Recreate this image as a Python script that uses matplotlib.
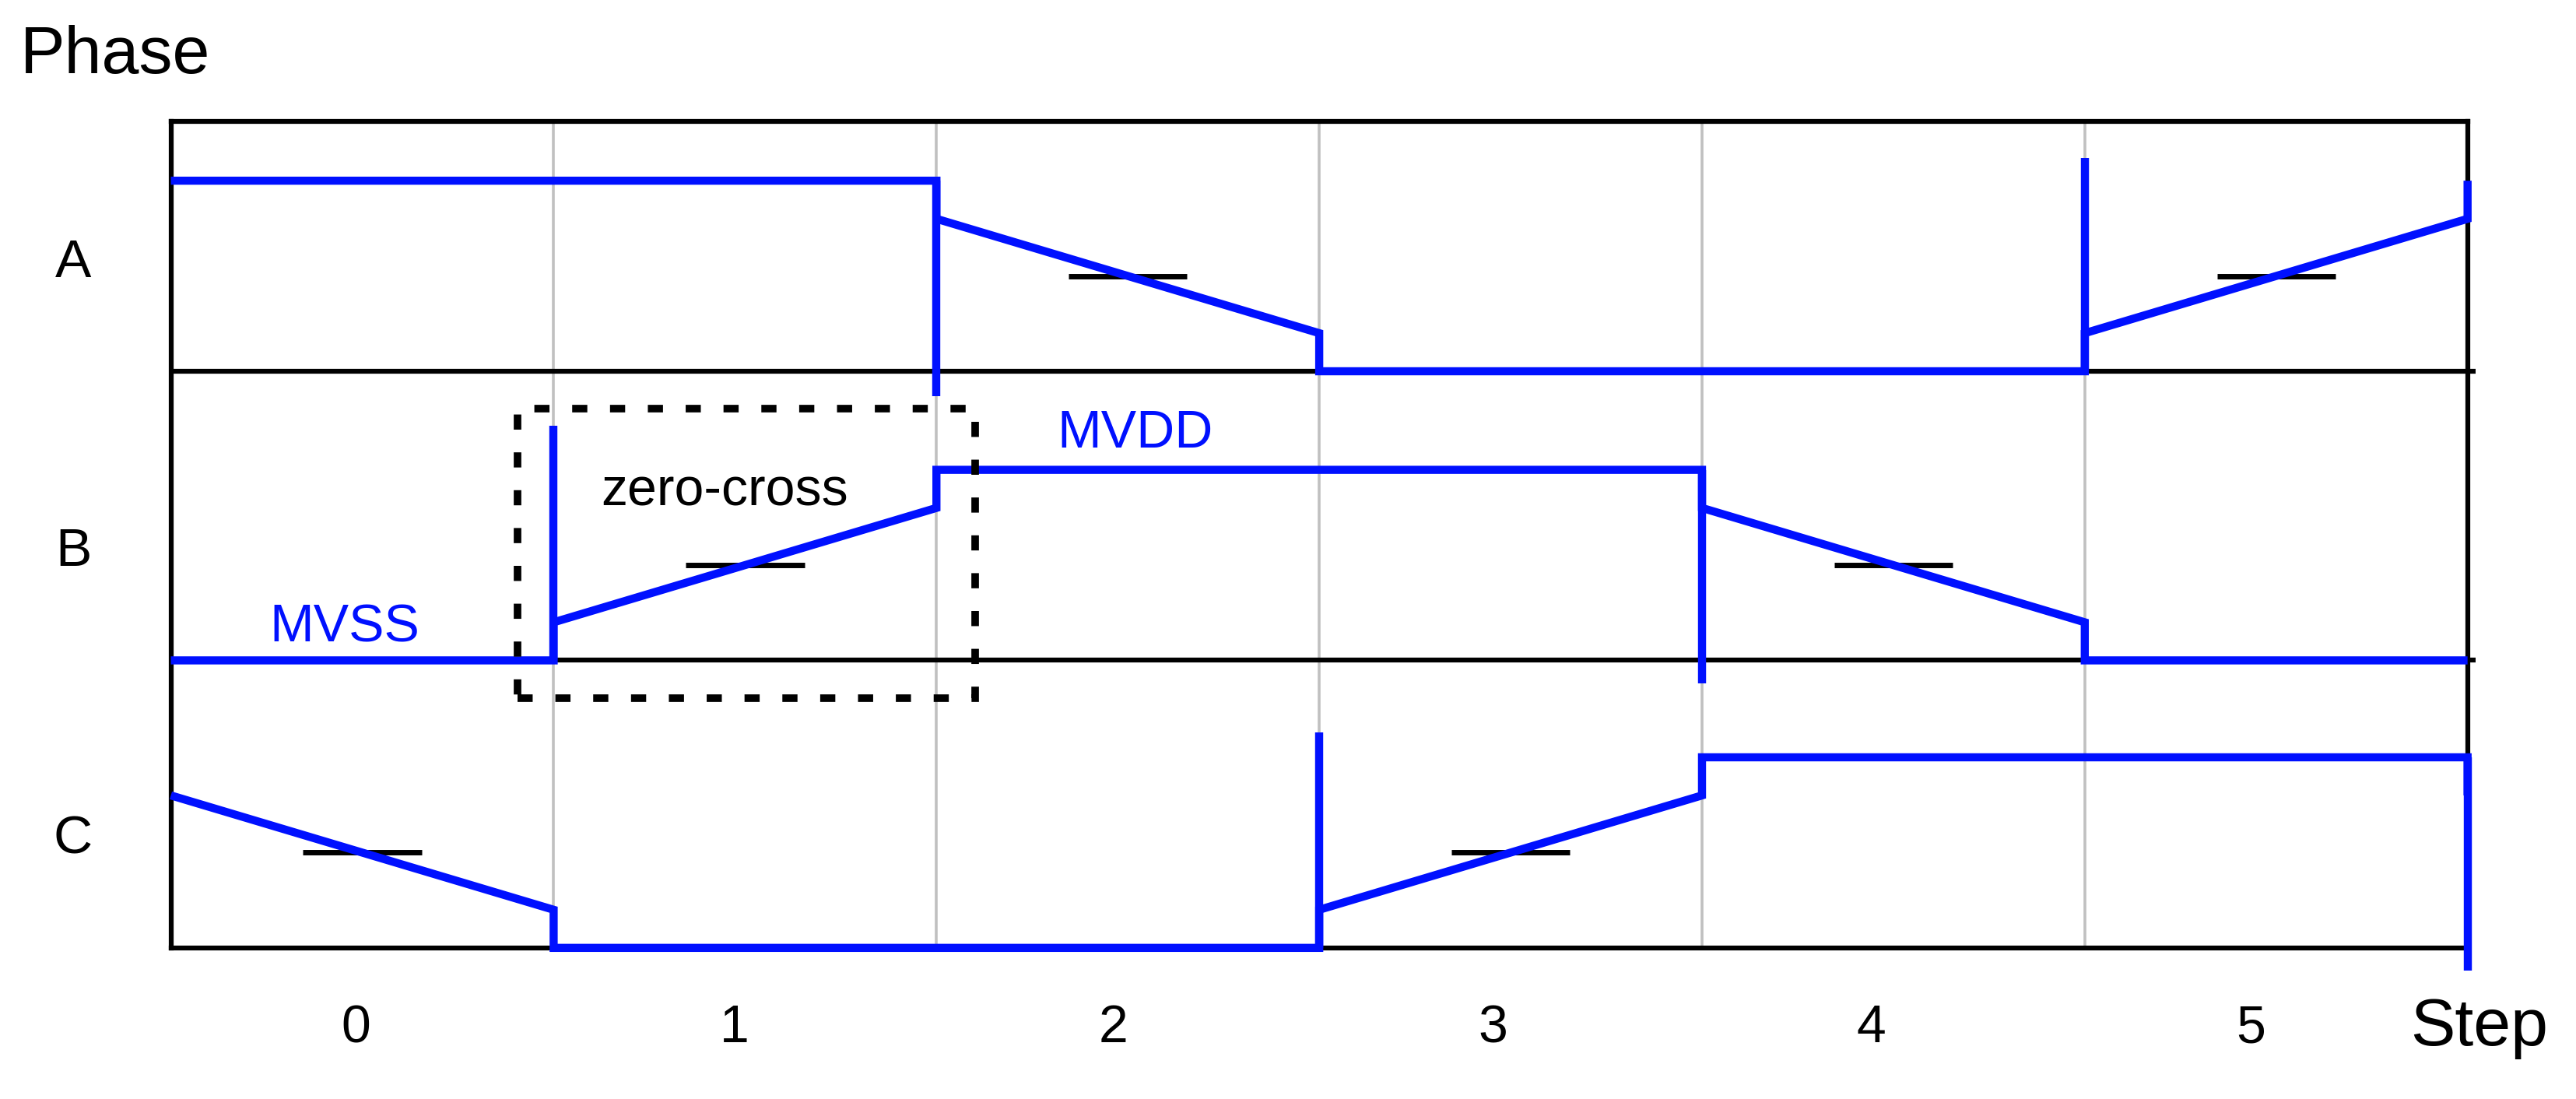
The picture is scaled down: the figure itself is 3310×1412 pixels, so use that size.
import matplotlib
matplotlib.use("Agg")
import matplotlib.pyplot as plt
from matplotlib.patches import Rectangle
import numpy as np

plt.rcParams['font.family'] = ['Liberation Sans', 'DejaVu Sans']

# ---------------- data ----------------
steps = [0, 1, 2, 3, 4, 5]
step_labels = ['0', '1', '2', '3', '4', '5']
phases = ['A', 'B', 'C']

# per-step state: H = high (MVDD), L = low (MVSS), R = rising ramp, F = falling ramp
states_A = ['H', 'H', 'F', 'L', 'L', 'R']
states_B = ['L', 'R', 'H', 'H', 'F', 'L']
states_C = ['F', 'L', 'L', 'R', 'H', 'H']

# transient spike level at the boundary after each step (None = no spike)
spikes_A = [None, -0.13, None, None, 1.12, None]
spikes_B = [1.23, None, None, -0.12, None, None]
spikes_C = [None, None, 1.13, None, None, -0.12]

level_low, level_high = 0.0, 1.0
ramp_lo, ramp_hi = 0.2, 0.8
zero_level = 0.5

# ---------------- layout ----------------
BLUE = '#0010ff'
LW_BLUE = 7.5
LW_FRAME = 4.5
LW_MARK = 5.0
W, H = 3310, 1412
fig = plt.figure(figsize=(W / 100, H / 100), dpi=100)
ax = fig.add_axes([104 / 1568, 1 - 577 / 669, (1502 - 104) / 1568, (577 - 74) / 669])

unit = 116.0
offsets = {'C': 0.0, 'B': (577 - 402) / unit, 'A': (577 - 226) / unit}
ytop = (577 - 74) / unit
ax.set_xlim(-0.5, 5.5)
ax.set_ylim(0, ytop)
ax.set_xticks([])
ax.set_yticks([])
for sp in ax.spines.values():
    sp.set_linewidth(LW_FRAME)
    sp.set_color('black')
    sp.set_zorder(3)


def seg(state):
    return {'H': (level_high, level_high), 'L': (level_low, level_low),
            'R': (ramp_lo, ramp_hi), 'F': (ramp_hi, ramp_lo)}[state]


# grey step boundaries
for s in steps[:-1]:
    ax.plot([s + 0.5, s + 0.5], [0, ytop], color='#c0c0c0', lw=2.6, zorder=1,
            solid_capstyle='butt')

# phase dividers
for name in ['A', 'B']:
    ax.plot([-0.5, 5.52], [offsets[name], offsets[name]], color='black',
            lw=LW_FRAME, zorder=3, clip_on=False, solid_capstyle='butt')

states_all = {'A': states_A, 'B': states_B, 'C': states_C}
spikes_all = {'A': spikes_A, 'B': spikes_B, 'C': spikes_C}

for name in phases:
    st = states_all[name]
    sk = spikes_all[name]
    off = offsets[name]
    xs, ys = [], []
    for i, s in enumerate(st):
        a, b = seg(s)
        xs += [steps[i] - 0.5, steps[i] + 0.5]
        ys += [a + off, b + off]
        nxt = seg(st[(i + 1) % len(st)])[0]
        xs.append(steps[i] + 0.5)
        ys.append(nxt + off)
        if sk[i] is not None:
            ax.plot([steps[i] + 0.5, steps[i] + 0.5], [b + off, sk[i] + off],
                    color=BLUE, lw=LW_BLUE, zorder=5, clip_on=False,
                    solid_capstyle='butt')
        if s in ('R', 'F'):
            ax.plot([steps[i] - 0.155, steps[i] + 0.155],
                    [zero_level + off, zero_level + off],
                    color='black', lw=LW_MARK, zorder=4, solid_capstyle='butt')
    ax.plot(xs, ys, color=BLUE, lw=LW_BLUE, zorder=5, clip_on=False,
            solid_joinstyle='miter', solid_capstyle='butt')
    ax.text(-0.755, off + 0.495, name, ha='center', va='baseline', fontsize=50)

# dotted zero-cross box
box = Rectangle((0.406, 1.312), 1.601 - 0.406, 2.830 - 1.312, fill=False,
                edgecolor='black', lw=7.0, linestyle=(0, (2.0, 3.0)),
                zorder=6, clip_on=False, capstyle='butt')
ax.add_patch(box)
ax.text(0.624, 2.32, 'zero-cross', ha='left', va='baseline', fontsize=49)

ax.text(-0.242, offsets['B'] + 0.097, 'MVSS', color=BLUE, ha='left',
        va='baseline', fontsize=49)
ax.text(1.815, offsets['B'] + 1.117, 'MVDD', color=BLUE, ha='left',
        va='baseline', fontsize=49)

# step labels
for s, lab in zip(steps, step_labels):
    ax.text(s - 0.017 - 0.01 * s, -0.495, lab, ha='center', va='baseline',
            fontsize=49)
ax.text(5.53, -0.51, 'Step', ha='center', va='baseline', fontsize=62)

fig.text(0.0077, 1 - 44.5 / 669, 'Phase', ha='left', va='baseline', fontsize=62)

fig.savefig('out.png', dpi=100)
